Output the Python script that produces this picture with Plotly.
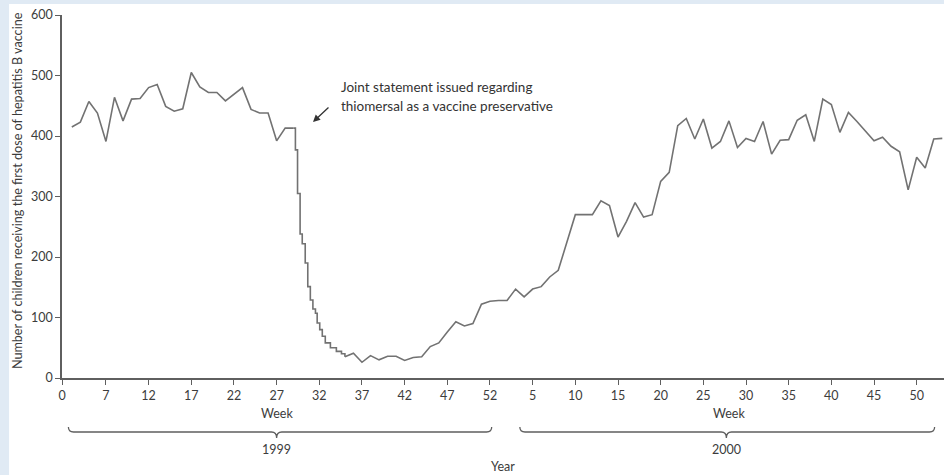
import plotly.graph_objects as go

# Week index runs continuously: 1999 weeks are 1-52, 2000 week w is 52 + w.
# Weekly counts before the joint statement (1999, weeks 3-29)
weeks_pre = list(range(3, 30))
counts_pre = [415, 423, 457, 438, 391, 464, 425, 461, 462, 480, 485, 449, 441,
              445, 505, 481, 472, 472, 458, 469, 480, 444, 438, 438, 392, 413, 413]

# Finer-grained counts through the sharp decline (1999, weeks 29-35)
decline_weeks = [29.0, 29.2, 29.45, 29.75, 30.0, 30.35, 30.65, 30.95, 31.25,
                 31.55, 31.75, 32.05, 32.35, 32.7, 33.3, 34.0, 34.6, 35.0]
decline_counts = [413, 377, 305, 238, 222, 190, 151, 129, 114,
                  107, 91, 80, 69, 58, 50, 44, 40, 35]

# Weekly counts from 1999 week 35 to the end of 2000
weeks_post = list(range(35, 106))
counts_post = [35, 41, 26, 37, 30, 36, 36, 29, 34, 35, 52, 58, 76, 93, 86, 90, 122, 127,
               128, 128, 147, 134, 147, 151, 167, 178, 224, 270, 270, 270, 293, 285,
               233, 259, 290, 266, 270, 325, 340, 417, 429, 395, 428, 380, 391, 425,
               381, 396, 391, 424, 370, 393, 394, 426, 435, 391, 461, 452, 406, 439,
               424, 408, 392, 398, 383, 374, 311, 365, 347, 395, 396]

# Axis tick labels
ticks_1999 = [0, 7, 12, 17, 22, 27, 32, 37, 42, 47, 52]
ticks_2000 = [5, 10, 15, 20, 25, 30, 35, 40, 45, 50]
y_ticks = [0, 100, 200, 300, 400, 500, 600]

X_START, X_END = 1.85, 105.2
YEAR_OFFSET = 52

tickvals = [X_START if w == 0 else w for w in ticks_1999] + [YEAR_OFFSET + w for w in ticks_2000]
ticktext = [str(w) for w in ticks_1999] + [str(w) for w in ticks_2000]

LINE = "#727272"
AXIS = "#5f5f5f"
TEXT = "#3c3c3c"
FONT = "Lato"

fig = go.Figure()
for xs, ys, shape in [(weeks_pre, counts_pre, "linear"),
                      (decline_weeks, decline_counts, "hv"),
                      (weeks_post, counts_post, "linear")]:
    fig.add_trace(go.Scatter(x=xs, y=ys, mode="lines",
                             line=dict(color=LINE, width=1.6, shape=shape),
                             hoverinfo="skip", showlegend=False))

axis_common = dict(showline=True, linecolor=AXIS, linewidth=1.6, ticks="outside",
                   ticklen=5, tickwidth=1.3, tickcolor=AXIS, showgrid=False,
                   zeroline=False, tickfont=dict(family=FONT, size=12.5, color=TEXT))

fig.update_layout(
    width=944, height=475,
    margin=dict(l=62, r=0, t=15, b=97),
    paper_bgcolor="#e0eaf4",
    plot_bgcolor="white",
    xaxis=dict(range=[X_START, X_END], tickvals=tickvals, ticktext=ticktext, **axis_common),
    yaxis=dict(range=[0, 600], tickvals=y_ticks, **axis_common),
    font=dict(family=FONT, color=TEXT),
)

# White panel behind the chart
fig.add_shape(type="rect", xref="paper", yref="paper", x0=-0.06, x1=1.01,
              y0=-0.3, y1=1.0303, fillcolor="white", line_width=0, layer="below")

# Curly braces grouping the weeks by year
def brace(x0, xc, x1, d=0.6, y_top=-0.135, y_line=-0.1488, y_tip=-0.1653):
    return (f"M {x0} {y_top} Q {x0} {y_line} {x0 + d} {y_line} "
            f"L {xc - d} {y_line} Q {xc} {y_line} {xc} {y_tip} "
            f"Q {xc} {y_line} {xc + d} {y_line} "
            f"L {x1 - d} {y_line} Q {x1} {y_line} {x1} {y_top}")

for x0, xc, x1 in [(2.6, 27.0, 52.2), (55.5, 79.7, 104.1)]:
    fig.add_shape(type="path", xref="x", yref="paper", path=brace(x0, xc, x1),
                  line=dict(color=AXIS, width=1.3))

ann = [
    dict(text="Number of children receiving the first dose of hepatitis B vaccine",
         xref="paper", yref="paper", x=-0.051, y=0.515, textangle=-90,
         font=dict(size=12.6)),
    dict(text="Week", xref="x", yref="paper", x=27, y=-0.099, font=dict(size=12.5)),
    dict(text="Week", xref="x", yref="paper", x=80, y=-0.099, font=dict(size=12.5)),
    dict(text="1999", xref="x", yref="paper", x=27, y=-0.1956, font=dict(size=12.5)),
    dict(text="2000", xref="x", yref="paper", x=79.7, y=-0.1956, font=dict(size=12.5)),
    dict(text="Year", xref="x", yref="paper", x=53.5, y=-0.245, font=dict(size=12.5)),
    dict(text="Joint statement issued regarding", xref="x", yref="y",
         x=34.3, y=481.6, xanchor="left", font=dict(size=13.5, color="#333333")),
    dict(text="thiomersal as a vaccine preservative", xref="x", yref="y",
         x=34.3, y=450.2, xanchor="left", font=dict(size=13.5, color="#333333")),
]
for a in ann:
    a.setdefault("showarrow", False)
    a.setdefault("xanchor", "center")
    a.setdefault("yanchor", "middle")
    fig.add_annotation(**a)

fig.add_annotation(x=31.26, y=423, xref="x", yref="y", text="", showarrow=True,
                   ax=17, ay=-16, arrowhead=2, arrowsize=1.1, arrowwidth=1.3,
                   arrowcolor="#333333")

fig.write_html("out.html")
